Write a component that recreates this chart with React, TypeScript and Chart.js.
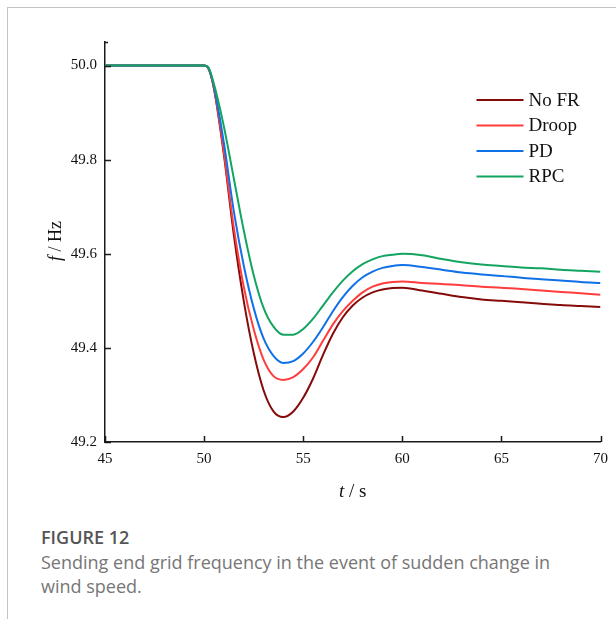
import React, { useEffect, useRef } from "react";
import { Chart, registerables } from "chart.js";

Chart.register(...registerables);

const times = [45, 50, 50.2, 50.5, 51, 51.5, 52, 52.5, 53, 53.5, 54, 54.5, 55, 55.5, 56, 56.5, 57, 57.5, 58, 58.5, 59, 59.5, 60, 61, 62, 63, 64, 65, 66, 67, 68, 69, 70];
const noFR = [50.0, 50.0, 49.995, 49.95, 49.81, 49.64, 49.5, 49.39, 49.31, 49.265, 49.253, 49.265, 49.294, 49.335, 49.385, 49.43, 49.465, 49.49, 49.507, 49.518, 49.524, 49.527, 49.528, 49.522, 49.515, 49.508, 49.503, 49.5, 49.497, 49.494, 49.491, 49.489, 49.487];
const droop = [50.0, 50.0, 49.996, 49.952, 49.815, 49.655, 49.53, 49.44, 49.375, 49.34, 49.332, 49.338, 49.355, 49.38, 49.415, 49.45, 49.478, 49.5, 49.518, 49.53, 49.537, 49.54, 49.541, 49.538, 49.536, 49.533, 49.53, 49.528, 49.525, 49.522, 49.519, 49.516, 49.513];
const pd = [50.0, 50.0, 49.996, 49.955, 49.835, 49.69, 49.575, 49.485, 49.42, 49.383, 49.368, 49.372, 49.388, 49.413, 49.444, 49.478, 49.508, 49.532, 49.55, 49.562, 49.57, 49.574, 49.576, 49.572, 49.566, 49.56, 49.556, 49.553, 49.549, 49.546, 49.543, 49.54, 49.538];
const rpc = [50.0, 50.0, 49.997, 49.96, 49.87, 49.76, 49.65, 49.555, 49.485, 49.445, 49.428, 49.428, 49.44, 49.462, 49.49, 49.518, 49.543, 49.563, 49.578, 49.588, 49.595, 49.598, 49.6, 49.597, 49.589, 49.582, 49.577, 49.574, 49.571, 49.569, 49.566, 49.564, 49.562];

const seriesNames = ["No FR", "Droop", "PD", "RPC"];
const seriesColors = ["#850a0a", "#ff3d3d", "#1070e6", "#13a560"];
const xTicks = { min: 45, max: 70, step: 5 };
const yTicks = { min: 49.2, max: 50.05, step: 0.2 };

const SERIF = "'Liberation Serif', 'Times New Roman', serif";

const decorPlugin = {
  id: "decor",
  afterDraw(chart: any) {
    const ctx = chart.ctx;
    const area = chart.chartArea;
    const xs = chart.scales.x;
    const ys = chart.scales.y;
    ctx.save();
    // inward ticks
    ctx.strokeStyle = "#1a1a1a";
    ctx.lineWidth = 1.5;
    ctx.beginPath();
    xs.ticks.forEach((t: any) => {
      const px = Math.round(xs.getPixelForValue(t.value)) + 0.5;
      ctx.moveTo(px, area.bottom);
      ctx.lineTo(px, area.bottom - 6);
    });
    ys.ticks.forEach((t: any) => {
      const py = Math.round(ys.getPixelForValue(t.value)) + 0.5;
      ctx.moveTo(area.left, py);
      ctx.lineTo(area.left + 6, py);
    });
    // cap at top of y axis
    ctx.moveTo(area.left, area.top + 0.5);
    ctx.lineTo(area.left + 3, area.top + 0.5);
    ctx.stroke();

    // legend
    const lx0 = area.right - 124;
    const lx1 = area.right - 77;
    chart.data.datasets.forEach((ds: any, i: number) => {
      const y = 100 + i * 25.5;
      ctx.strokeStyle = ds.borderColor;
      ctx.lineWidth = 2;
      ctx.beginPath();
      ctx.moveTo(lx0, y);
      ctx.lineTo(lx1, y);
      ctx.stroke();
      ctx.fillStyle = "#111";
      ctx.font = `19px ${SERIF}`;
      ctx.textBaseline = "middle";
      ctx.textAlign = "left";
      ctx.fillText(ds.label, lx1 + 5, y + 1);
    });

    // axis titles
    const drawTitle = (italic: string, rest: string, size: number) => {
      ctx.font = `italic ${size}px ${SERIF}`;
      const w1 = ctx.measureText(italic).width;
      ctx.font = `${size}px ${SERIF}`;
      const w2 = ctx.measureText(rest).width;
      const start = -(w1 + w2) / 2;
      ctx.font = `italic ${size}px ${SERIF}`;
      ctx.fillText(italic, start, 0);
      ctx.font = `${size}px ${SERIF}`;
      ctx.fillText(rest, start + w1, 0);
    };
    ctx.fillStyle = "#111";
    ctx.textBaseline = "middle";
    ctx.textAlign = "left";
    ctx.save();
    ctx.translate((area.left + area.right) / 2, 492);
    drawTitle("t", " / s", 19);
    ctx.restore();
    ctx.save();
    ctx.translate(56, (area.top + area.bottom) / 2 - 1);
    ctx.rotate(-Math.PI / 2);
    drawTitle("f", " / Hz", 18);
    ctx.restore();
    ctx.restore();
  },
};

export default function App() {
  const ref = useRef<HTMLCanvasElement | null>(null);
  useEffect(() => {
    if (!ref.current) return;
    const allSeries = [noFR, droop, pd, rpc];
    const chart = new Chart(ref.current, {
      type: "line",
      data: {
        datasets: allSeries.map((vals, i) => ({
          label: seriesNames[i],
          data: times.map((t, j) => ({ x: t, y: vals[j] })),
          borderColor: seriesColors[i],
          backgroundColor: seriesColors[i],
          borderWidth: 2,
          pointRadius: 0,
          cubicInterpolationMode: "monotone" as const,
          fill: false,
          order: 3 - i,
        })),
      },
      options: {
        animation: false,
        responsive: false,
        devicePixelRatio: 1,
        layout: { padding: { top: 42, right: 15, left: 0, bottom: 0 } },
        plugins: { legend: { display: false }, tooltip: { enabled: false } },
        scales: {
          x: {
            type: "linear",
            min: xTicks.min,
            max: xTicks.max,
            afterFit: (s: any) => {
              s.height = 58;
            },
            ticks: {
              stepSize: xTicks.step,
              color: "#111",
              padding: 8,
              maxRotation: 0,
              font: { family: SERIF, size: 15 },
            },
            grid: { display: false, drawTicks: false },
            border: { display: true, color: "#1a1a1a", width: 1.5 },
          },
          y: {
            type: "linear",
            min: yTicks.min,
            max: yTicks.max,
            afterFit: (s: any) => {
              s.width = 105;
            },
            ticks: {
              stepSize: yTicks.step,
              includeBounds: false,
              color: "#111",
              padding: 8,
              font: { family: SERIF, size: 15 },
              callback: (v: any) => Number(v).toFixed(1),
            },
            grid: { display: false, drawTicks: false },
            border: { display: true, color: "#1a1a1a", width: 1.5 },
          },
        },
      },
      plugins: [decorPlugin],
    });
    return () => chart.destroy();
  }, []);

  return (
    <div style={{ position: "absolute", left: 0, top: 0, width: 616, height: 619, background: "#fff", overflow: "hidden" }}>
      <div
        style={{
          position: "absolute",
          left: 7,
          top: 7,
          width: 620,
          height: 620,
          borderLeft: "1px solid #c4c4c4",
          borderTop: "1px solid #c4c4c4",
        }}
      />
      <canvas ref={ref} width={616} height={500} style={{ position: "absolute", left: 0, top: 0, width: 616, height: 500 }} />
      <div
        style={{
          position: "absolute",
          left: 41,
          top: 525,
          width: 570,
          fontFamily: "'Open Sans', sans-serif",
          fontSize: 18,
          lineHeight: "24px",
          color: "#767676",
          whiteSpace: "nowrap",
        }}
      >
        <div style={{ fontWeight: 600, color: "#555" }}>FIGURE 12</div>
        <div style={{ marginTop: 1 }}>
          Sending end grid frequency in the event of sudden change in
          <br />
          wind speed.
        </div>
      </div>
    </div>
  );
}
